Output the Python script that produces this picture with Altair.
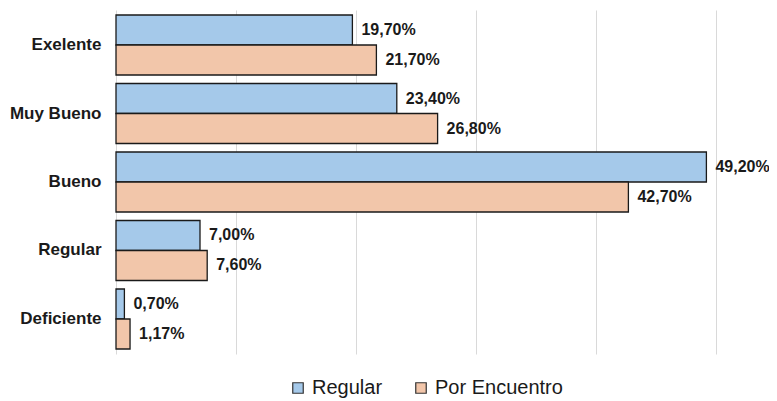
import altair as alt
import pandas as pd

categories = ["Exelente", "Muy Bueno", "Bueno", "Regular", "Deficiente"]
series = ["Regular", "Por Encuentro"]
regular_vals = [19.70, 23.40, 49.20, 7.00, 0.70]
encuentro_vals = [21.70, 26.80, 42.70, 7.60, 1.17]
colors = ["#a5c9ea", "#f2c6aa"]

rows = []
for c, r, e in zip(categories, regular_vals, encuentro_vals):
    rows.append({"cat": c, "serie": series[0], "val": r, "order": 0})
    rows.append({"cat": c, "serie": series[1], "val": e, "order": 1})
df = pd.DataFrame(rows)
df["label"] = df["val"].map(lambda v: f"{v:.2f}".replace(".", ",") + "%")

FONT = "Liberation Sans"

y_enc = alt.Y("cat:N", sort=categories, title=None,
              scale=alt.Scale(paddingInner=0.124, paddingOuter=0.073),
              axis=alt.Axis(domain=False, ticks=False, labelFont=FONT, labelFontSize=17,
                            labelFontWeight="bold", labelColor="#1a1a1a", labelPadding=15))
yoff = alt.YOffset("serie:N", sort=series, scale=alt.Scale(paddingInner=0, paddingOuter=0))
x_enc = alt.X("val:Q", title=None, scale=alt.Scale(domain=[0, 50], nice=False),
              axis=alt.Axis(values=[0, 10, 20, 30, 40, 50], labels=False, ticks=False,
                            domain=False, grid=True, gridColor="#d9d9d9", gridWidth=1))

bars = alt.Chart(df).mark_bar(stroke="#1a1a1a", strokeWidth=1.3).encode(
    y=y_enc, yOffset=yoff, x=x_enc,
    color=alt.Color("serie:N", sort=series,
                    scale=alt.Scale(domain=series, range=colors),
                    legend=alt.Legend(title=None, orient="none", direction="horizontal",
                                      legendX=172, legendY=368,
                                      symbolType="square", symbolSize=110,
                                      symbolStrokeColor="#333", symbolStrokeWidth=1.2,
                                      labelFont=FONT, labelFontSize=20, labelColor="#1a1a1a",
                                      labelOffset=4, columnPadding=28, symbolOpacity=1)),
)

texts = alt.Chart(df).mark_text(align="left", baseline="middle", dx=9, font=FONT,
                                fontSize=16, fontWeight="bold", color="#1a1a1a").encode(
    y=alt.Y("cat:N", sort=categories), yOffset=yoff, x="val:Q", text="label:N"
)

chart = (bars + texts).properties(
    width=600, height=344,
    autosize=alt.AutoSizeParams(type="none"),
    padding={"left": 108, "top": 2, "right": 53, "bottom": 47},
).configure_view(stroke=None)

chart.save("out.html", embed_options={"renderer": "svg", "actions": False})
